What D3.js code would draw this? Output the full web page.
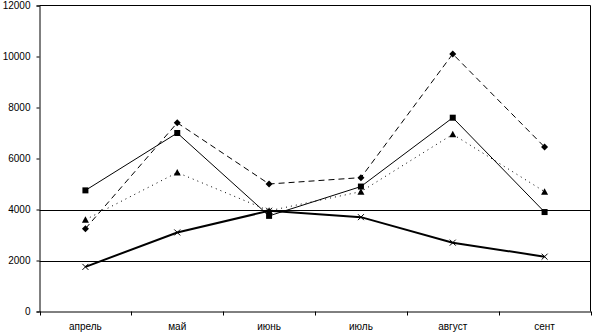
<!DOCTYPE html>
<html>
<head>
<meta charset="utf-8">
<script src="https://cdn.jsdelivr.net/npm/d3@7"></script>
<style>
  body { margin: 0; background: #fff; }
  svg text { font-family: Arial, "Liberation Sans", sans-serif; font-size: 10px; fill: #000; }
</style>
</head>
<body>
<script>
// DATA
const months = ["апрель", "май", "июнь", "июль", "август", "сент"];
const seriesSquare = [4750, 7000, 3750, 4900, 7600, 3900];
const seriesDiamond = [3250, 7400, 5000, 5250, 10100, 6450];
const seriesTriangle = [3600, 5450, 3950, 4700, 6950, 4700];
const seriesCross = [1750, 3100, 3950, 3700, 2700, 2150];
const yTicks = [0, 2000, 4000, 6000, 8000, 10000, 12000];
const gridValues = [2000, 4000];

const W = 593, H = 333;
const plot = { left: 39.5, right: 590.5, top: 5.5, bottom: 311.5 };

const svg = d3.select("body").append("svg")
    .attr("width", W).attr("height", H);

const X = d3.scaleBand().domain(months).range([plot.left, plot.right]);
const Y = d3.scaleLinear().domain([0, 12000]).range([plot.bottom, plot.top]);

// frame (top + right)
svg.append("path")
    .attr("d", `M${plot.left},${plot.top}H${plot.right}V${plot.bottom}`)
    .attr("fill", "none").attr("stroke", "#000");

// gridlines
svg.selectAll(".grid").data(gridValues).enter().append("line")
    .attr("x1", plot.left).attr("x2", plot.right)
    .attr("y1", d => Math.round(Y(d)) + 0.5).attr("y2", d => Math.round(Y(d)) + 0.5)
    .attr("stroke", "#000");

// y axis
const yAxis = svg.append("g").attr("transform", `translate(${plot.left},0)`)
    .call(d3.axisLeft(Y).tickValues(yTicks).tickSize(3).tickPadding(6).tickFormat(d3.format("d")));
yAxis.select(".domain").attr("stroke", "#000");
yAxis.selectAll("text").style("font-size", "10px");

// x axis
const xAxis = svg.append("g").attr("transform", `translate(0,${plot.bottom})`)
    .call(d3.axisBottom(X).tickSize(0).tickPadding(11));
xAxis.select(".domain").attr("stroke", "#000");
xAxis.selectAll("text").style("font-size", "10px");
// ticks on category boundaries
xAxis.selectAll(".bound").data(months.map(m => X(m)).concat([plot.right])).enter().append("line")
    .attr("x1", d => Math.round(d) + 0.5).attr("x2", d => Math.round(d) + 0.5)
    .attr("y1", 0).attr("y2", 4).attr("stroke", "#000");

const cx = m => X(m) + X.bandwidth() / 2;

function drawSeries(values, opts) {
  const line = d3.line().x((d, i) => cx(months[i])).y(d => Y(d));
  svg.append("path")
      .attr("d", line(values))
      .attr("fill", "none")
      .attr("stroke", "#000")
      .attr("stroke-width", opts.width)
      .attr("stroke-dasharray", opts.dash);
  const g = svg.append("g");
  values.forEach((v, i) => {
    const x = cx(months[i]), y = Y(v);
    if (opts.marker === "square") {
      g.append("rect").attr("x", x - 3).attr("y", y - 3).attr("width", 6).attr("height", 6).attr("fill", "#000");
    } else if (opts.marker === "diamond") {
      g.append("path").attr("d", `M${x},${y - 3.5}L${x + 3.5},${y}L${x},${y + 3.5}L${x - 3.5},${y}Z`).attr("fill", "#000");
    } else if (opts.marker === "triangle") {
      g.append("path").attr("d", `M${x},${y - 3.5}L${x + 3.5},${y + 3}L${x - 3.5},${y + 3}Z`).attr("fill", "#000");
    } else if (opts.marker === "cross") {
      g.append("path").attr("d", `M${x - 3},${y - 3}L${x + 3},${y + 3}M${x + 3},${y - 3}L${x - 3},${y + 3}`)
          .attr("stroke", "#000").attr("stroke-width", 1);
    }
  });
}

drawSeries(seriesTriangle, { width: 1, dash: "1,4", marker: "triangle" });
drawSeries(seriesDiamond, { width: 1, dash: "6,4", marker: "diamond" });
drawSeries(seriesSquare, { width: 1, dash: null, marker: "square" });
drawSeries(seriesCross, { width: 2, dash: null, marker: "cross" });
</script>
</body>
</html>
